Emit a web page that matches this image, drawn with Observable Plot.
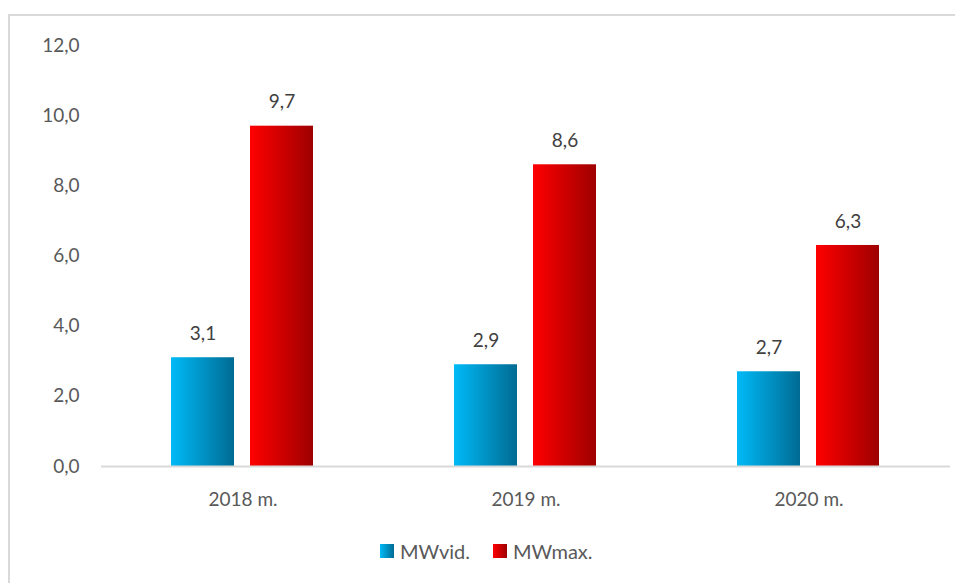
<!DOCTYPE html>
<html>
<head>
<meta charset="utf-8">
<script src="https://cdn.jsdelivr.net/npm/d3@7"></script>
<script src="https://cdn.jsdelivr.net/npm/@observablehq/plot@0.6"></script>
<style>
  html, body { margin: 0; padding: 0; background: #fff; }
  body { width: 955px; height: 583px; position: relative; overflow: hidden; font-family: Lato, "Open Sans", sans-serif; }
  #frame { position: absolute; left: 8px; top: 14px; width: 1100px; height: 700px; border: 2px solid #D9D9D9; box-sizing: border-box; }
  #chart { position: absolute; left: 0; top: 0; }
  #legend { position: absolute; left: 380px; top: 539px; display: flex; align-items: center; font-size: 20px; color: #595959; }
  .sw { width: 14px; height: 14px; display: inline-block; margin-right: 6px; }
  .item { display: flex; align-items: center; margin-right: 23px; }
</style>
</head>
<body>
<div id="frame"></div>
<div id="chart"></div>
<div id="legend"></div>
<script>
const years = ["2018 m.", "2019 m.", "2020 m."];
const series = ["MWvid.", "MWmax."];
const mwVid = [3.1, 2.9, 2.7];
const mwMax = [9.7, 8.6, 6.3];
const yTicks = [0, 2, 4, 6, 8, 10, 12];
const gradients = {
  "MWvid.": ["#00BAF7", "#006B93"],
  "MWmax.": ["#FF0000", "#9E0000"]
};
const gradId = {"MWvid.": "gBlue", "MWmax.": "gRed"};

const data = [];
years.forEach((y, i) => {
  data.push({year: y, series: "MWvid.", value: mwVid[i]});
  data.push({year: y, series: "MWmax.", value: mwMax[i]});
});
const fmt = d => d.toFixed(1).replace(".", ",");

const plot = Plot.plot({
  width: 955,
  height: 530,
  marginLeft: 100,
  marginRight: 5,
  marginTop: 45,
  marginBottom: 64,
  style: {fontFamily: "Lato, 'Open Sans', sans-serif", fontSize: "19px", background: "transparent", color: "#595959"},
  fx: {domain: years, padding: 0, label: null, axis: "bottom", tickSize: 0, tickPadding: 26},
  x: {domain: series, paddingInner: 0.2, paddingOuter: 0.869, axis: null},
  y: {domain: [0, 12], ticks: yTicks, tickFormat: fmt, tickSize: 0, tickPadding: 22, label: null, grid: false},
  marks: [
    Plot.barY(data.filter(d => d.series === "MWvid."), {fx: "year", x: "series", y: "value", fill: "url(#gBlue)"}),
    Plot.barY(data.filter(d => d.series === "MWmax."), {fx: "year", x: "series", y: "value", fill: "url(#gRed)"}),
    Plot.ruleY([0], {stroke: "#D9D9D9", strokeWidth: 2}),
    Plot.text(data, {fx: "year", x: "series", y: "value", text: d => fmt(d.value), dy: -24, fill: "#404040", fontSize: 19})
  ]
});

// gradient defs
const svg = d3.select(plot);
const defs = svg.insert("defs", ":first-child");
for (const s of series) {
  const g = defs.append("linearGradient").attr("id", gradId[s]).attr("x1", 0).attr("x2", 1).attr("y1", 0).attr("y2", 0);
  g.append("stop").attr("offset", "0%").attr("stop-color", gradients[s][0]);
  g.append("stop").attr("offset", "100%").attr("stop-color", gradients[s][1]);
}
document.getElementById("chart").appendChild(plot);

const legend = document.getElementById("legend");
for (const s of series) {
  const item = document.createElement("div");
  item.className = "item";
  const sw = document.createElement("span");
  sw.className = "sw";
  sw.style.background = `linear-gradient(to right, ${gradients[s][0]}, ${gradients[s][1]})`;
  const t = document.createElement("span");
  t.textContent = s;
  item.appendChild(sw);
  item.appendChild(t);
  legend.appendChild(item);
}
</script>
</body>
</html>
